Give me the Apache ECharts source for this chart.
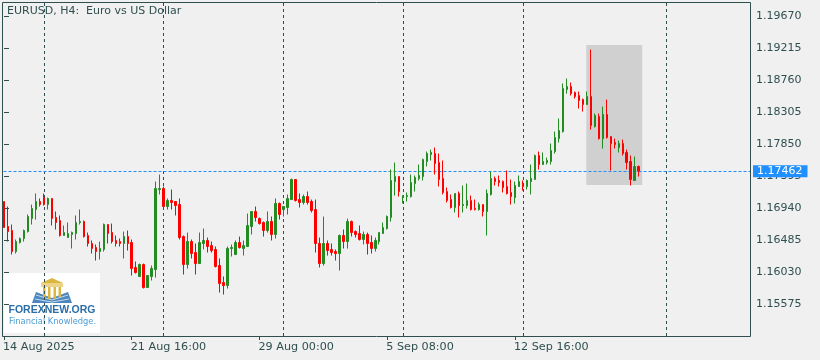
<!DOCTYPE html>
<html>
<head>
<meta charset="utf-8">
<style>
  html, body { margin: 0; padding: 0; background: #f0f0f0; }
  #chart { width: 820px; height: 360px; }
</style>
<script src="https://cdn.jsdelivr.net/npm/echarts@6/dist/echarts.min.js"></script>
</head>
<body>
<div id="chart"></div>
<script>
const opens = [
  1.17030,1.16675,1.16618,1.16319,1.16447,1.16504,1.16603,1.16788,1.16916,1.17030,
  1.17087,1.16987,1.17073,1.16803,1.16760,1.16547,1.16518,1.16561,1.16575,1.16731,
  1.16746,1.16547,1.16433,1.16376,1.16319,1.16348,1.16703,1.16589,1.16476,1.16461,
  1.16433,1.16532,1.16447,1.16092,1.15964,1.16134,1.15807,1.15964,1.16063,1.17201,
  1.17215,1.16959,1.17044,1.17030,1.16987,1.16532,1.16134,1.16461,1.16305,1.16148,
  1.16433,1.16476,1.16404,1.16348,1.16120,1.15878,1.15836,1.16362,1.16276,1.16447,
  1.16362,1.16390,1.16675,1.16888,1.16788,1.16731,1.16618,1.16746,1.16561,1.17002,
  1.16916,1.16945,1.17058,1.17343,1.17058,1.17016,1.17101,1.17030,1.16916,1.16433,
  1.16148,1.16433,1.16348,1.16319,1.16291,1.16547,1.16461,1.16746,1.16603,1.16575,
  1.16490,1.16561,1.16447,1.16362,1.16461,1.16575,1.16646,1.16803,1.17314,1.17385,
  1.17087,1.17101,1.17101,1.17286,1.17357,1.17385,1.17599,1.17698,1.17712,1.17584,
  1.17357,1.17172,1.17058,1.16945,1.17144,1.16973,1.16973,1.17044,1.16931,1.16916,
  1.16987,1.16888,1.17130,1.17357,1.17329,1.17314,1.17243,1.17158,1.17087,1.17243,
  1.17272,1.17243,1.17314,1.17343,1.17684,1.17556,1.17584,1.17599,1.17741,1.17925,
  1.18025,1.18622,1.18665,1.18580,1.18537,1.18480,1.18409,1.18523,1.18096,1.18238,
  1.17925,1.18267,1.17954,1.17869,1.17798,1.17854,1.17727,1.17599,1.17329,1.17528
];
const closes = [
  1.16660,1.16603,1.16319,1.16461,1.16504,1.16618,1.16817,1.16931,1.17030,1.16987,
  1.16987,1.17073,1.16788,1.16731,1.16547,1.16589,1.16575,1.16589,1.16731,1.16746,
  1.16532,1.16433,1.16362,1.16319,1.16362,1.16703,1.16575,1.16461,1.16433,1.16433,
  1.16532,1.16433,1.16077,1.16020,1.16134,1.15807,1.15978,1.16077,1.17215,1.17215,
  1.16959,1.17044,1.17016,1.16973,1.16518,1.16134,1.16461,1.16291,1.16148,1.16447,
  1.16476,1.16390,1.16333,1.16106,1.15864,1.15836,1.16362,1.16376,1.16447,1.16376,
  1.16404,1.16689,1.16888,1.16803,1.16717,1.16618,1.16746,1.16561,1.17002,1.16845,
  1.16959,1.17073,1.17343,1.17044,1.17016,1.17101,1.17016,1.16902,1.16433,1.16148,
  1.16433,1.16333,1.16305,1.16291,1.16547,1.16461,1.16746,1.16589,1.16561,1.16490,
  1.16561,1.16433,1.16362,1.16476,1.16589,1.16660,1.16817,1.17329,1.17385,1.17172,
  1.17115,1.17115,1.17300,1.17371,1.17400,1.17627,1.17712,1.17727,1.17570,1.17343,
  1.17158,1.17044,1.16945,1.17144,1.16973,1.16987,1.17044,1.16916,1.16916,1.16987,
  1.16888,1.17144,1.17357,1.17314,1.17300,1.17229,1.17144,1.17101,1.17258,1.17314,
  1.17243,1.17329,1.17357,1.17684,1.17556,1.17599,1.17613,1.17755,1.17940,1.18039,
  1.18636,1.18665,1.18565,1.18523,1.18466,1.18409,1.18523,1.18110,1.18253,1.17925,
  1.18267,1.17940,1.17854,1.17840,1.17854,1.17712,1.17584,1.17343,1.17528,1.17462
];
const lows = [
  1.16660,1.16461,1.16276,1.16291,1.16433,1.16461,1.16589,1.16703,1.16774,1.16959,
  1.16973,1.16916,1.16689,1.16632,1.16532,1.16547,1.16518,1.16362,1.16490,1.16703,
  1.16518,1.16390,1.16291,1.16191,1.16205,1.16319,1.16433,1.16433,1.16390,1.16390,
  1.16220,1.16333,1.15978,1.16006,1.15964,1.15793,1.15807,1.15907,1.15949,1.17130,
  1.16916,1.16916,1.16916,1.16831,1.16490,1.15992,1.16077,1.16220,1.15992,1.16148,
  1.16348,1.16305,1.16305,1.16092,1.15736,1.15708,1.15793,1.16248,1.16276,1.16362,
  1.16262,1.16390,1.16561,1.16746,1.16703,1.16532,1.16589,1.16476,1.16504,1.16774,
  1.16817,1.16845,1.17058,1.17030,1.16945,1.16987,1.16987,1.16874,1.16305,1.16092,
  1.16120,1.16262,1.16262,1.16191,1.16049,1.16362,1.16362,1.16532,1.16518,1.16476,
  1.16419,1.16276,1.16291,1.16319,1.16419,1.16575,1.16632,1.16746,1.17115,1.17101,
  1.17002,1.17030,1.17087,1.17172,1.17329,1.17329,1.17528,1.17613,1.17414,1.17243,
  1.17130,1.17016,1.16931,1.16874,1.16803,1.16874,1.16931,1.16902,1.16902,1.16902,
  1.16817,1.16547,1.17115,1.17258,1.17243,1.17158,1.17130,1.16987,1.17002,1.17243,
  1.17186,1.17201,1.17130,1.17343,1.17485,1.17556,1.17556,1.17556,1.17712,1.17869,
  1.18011,1.18565,1.18537,1.18494,1.18352,1.18309,1.18409,1.18053,1.18082,1.17911,
  1.17783,1.17925,1.17471,1.17783,1.17727,1.17684,1.17485,1.17258,1.17329,1.17385
];
const highs = [
  1.17030,1.16959,1.16703,1.16490,1.16518,1.16632,1.16845,1.16987,1.17144,1.17073,
  1.17144,1.17087,1.17073,1.16888,1.16831,1.16689,1.16731,1.16603,1.16831,1.16916,
  1.16760,1.16589,1.16476,1.16419,1.16461,1.16717,1.16703,1.16717,1.16547,1.16504,
  1.16603,1.16618,1.16490,1.16177,1.16148,1.16148,1.15978,1.16120,1.17314,1.17414,
  1.17243,1.17073,1.17201,1.17030,1.17073,1.16547,1.16589,1.16490,1.16433,1.16589,
  1.16646,1.16518,1.16461,1.16390,1.16220,1.15964,1.16390,1.16419,1.16476,1.16532,
  1.16476,1.16859,1.16888,1.16959,1.16803,1.16746,1.16888,1.16817,1.17073,1.17016,
  1.16959,1.17130,1.17357,1.17343,1.17144,1.17130,1.17172,1.17058,1.17058,1.16518,
  1.16817,1.16476,1.16433,1.16348,1.16561,1.16632,1.16788,1.16760,1.16618,1.16689,
  1.16603,1.16589,1.16547,1.16518,1.16589,1.16731,1.16831,1.17485,1.17584,1.17385,
  1.17115,1.17158,1.17414,1.17400,1.17556,1.17641,1.17741,1.17769,1.17798,1.17712,
  1.17613,1.17229,1.17130,1.17144,1.17172,1.17258,1.17286,1.17115,1.17058,1.17016,
  1.16987,1.17201,1.17456,1.17385,1.17400,1.17329,1.17471,1.17343,1.17314,1.17400,
  1.17329,1.17343,1.17556,1.17698,1.17741,1.17727,1.17655,1.17854,1.18025,1.18210,
  1.18708,1.18778,1.18722,1.18594,1.18594,1.18494,1.18594,1.19191,1.18281,1.18281,
  1.18380,1.18480,1.17954,1.17925,1.17897,1.17911,1.17769,1.17684,1.17670,1.17542
];
const yTicks = [1.1967, 1.19215, 1.1876, 1.18305, 1.1785, 1.17395, 1.1694, 1.16485, 1.1603, 1.15575];
const dateSlots = [0, 32, 64, 96, 128];
const dateLabels = ["14 Aug 2025", "21 Aug 16:00", "29 Aug 00:00", "5 Sep 08:00", "12 Sep 16:00"];
const gridCandles = [10, 40, 70, 100, 130, 166];
const lastPrice = 1.17462;
const highlightBox = { from: 145.875, to: 159.875, top: 1.19256, bottom: 1.17265 };

const INK = "#2F4F4F";
const BLUE = "#1E90FF";

const candles = opens.map((o, i) => [i, o, closes[i], lows[i], highs[i]]);

const chart = echarts.init(document.getElementById("chart"), null, { renderer: "canvas" });
chart.setOption({
  animation: false,
  backgroundColor: "#F0F0F0",
  textStyle: { fontFamily: "DejaVu Sans" },
  title: {
    text: "EURUSD, H4:  Euro vs US Dollar",
    left: 7,
    top: 6,
    padding: 0,
    textStyle: { color: INK, fontSize: 11, fontWeight: "normal", fontFamily: "DejaVu Sans" },
  },
  grid: {
    left: 2,
    top: 2,
    width: 748,
    height: 334,
  },
  // value axis with an eighth of a slot of offset: puts candle centres on x.5 so the wicks stay crisp
  xAxis: {
    type: "value",
    min: -0.125,
    max: 186.875,
    axisLine: { show: false },
    splitLine: { show: false },
    axisTick: { show: true, length: 4, customValues: dateSlots, lineStyle: { color: INK } },
    axisLabel: {
      customValues: dateSlots,
      align: "left",
      margin: 6,
      color: INK,
      fontSize: 11.2,
      padding: [0, 0, 0, -1],
      formatter: (v) => dateLabels[dateSlots.indexOf(v)],
    },
  },
  yAxis: {
    type: "value",
    position: "right",
    scale: true,
    min: 1.15118,
    max: 1.19867,
    axisLine: { show: false },
    splitLine: { show: false },
    axisTick: { show: true, length: 5, customValues: yTicks, lineStyle: { color: INK } },
    axisLabel: {
      customValues: yTicks,
      margin: 6,
      color: INK,
      fontSize: 11,
      padding: [2, 0, 0, 0],
      formatter: (v) => v.toFixed(5),
    },
  },
  series: [
    {
      type: "line",
      data: [],
      silent: true,
      markArea: {
        silent: true,
        z: 0,
        itemStyle: { color: "#D0D0D0" },
        data: [[
          { xAxis: highlightBox.from, yAxis: highlightBox.top },
          { xAxis: highlightBox.to, yAxis: highlightBox.bottom },
        ]],
      },
      markLine: {
        silent: true,
        z: 1,
        symbol: "none",
        precision: 5,
        animation: false,
        data: gridCandles
          .map((i) => ({
            xAxis: i,
            label: { show: false },
            lineStyle: { color: INK, type: [3, 3], width: 1 },
          }))
          .concat([{
            yAxis: lastPrice,
            lineStyle: { color: BLUE, type: [3, 2], width: 1 },
            label: {
              show: true,
              position: "end",
              distance: 3,
              formatter: lastPrice.toFixed(5),
              color: "#FFFFFF",
              backgroundColor: BLUE,
              fontSize: 11,
              fontFamily: "DejaVu Sans",
              padding: [1, 5, 0, 4],
            },
          }]),
      },
    },
    {
      type: "candlestick",
      z: 2,
      barWidth: 2,
      data: candles,
      itemStyle: {
        color: "#228B22",
        color0: "#FF0000",
        borderColor: "#228B22",
        borderColor0: "#FF0000",
        borderWidth: 1,
      },
    },
  ],
  graphic: [
    // chart frame, the grid's own border would blur on whole pixels
    {
      type: "rect",
      z: 3,
      silent: true,
      shape: { x: 2.5, y: 2.5, width: 748, height: 334 },
      style: { stroke: INK, fill: "none", lineWidth: 1 },
    },
    {
      type: "group",
      z: 50,
      children: [
        { type: "rect", shape: { x: 4, y: 273, width: 96, height: 60 }, style: { fill: "#FFFFFF" } },
        // open book
        { type: "polygon", shape: { points: [[36, 292], [52, 298], [68, 292], [72, 303], [32, 303]] }, style: { fill: "#4C86BE" } },
        { type: "polyline", shape: { points: [[36, 295], [52, 300], [68, 295]] }, style: { stroke: "#C6DAEC", fill: "none", lineWidth: 1 } },
        { type: "polyline", shape: { points: [[35, 299], [52, 302], [69, 299]] }, style: { stroke: "#C6DAEC", fill: "none", lineWidth: 1 } },
        // temple roof and columns
        { type: "polygon", shape: { points: [[41, 283], [52, 278], [63, 283]] }, style: { fill: "#DDB640" } },
        { type: "rect", shape: { x: 41, y: 283, width: 22, height: 4 }, style: { fill: "#EBD48A" } },
        { type: "rect", shape: { x: 43, y: 287, width: 2.5, height: 10 }, style: { fill: "#DDB640" } },
        { type: "rect", shape: { x: 48, y: 287, width: 2.5, height: 12 }, style: { fill: "#DDB640" } },
        { type: "rect", shape: { x: 53.5, y: 287, width: 2.5, height: 12 }, style: { fill: "#DDB640" } },
        { type: "rect", shape: { x: 58.5, y: 287, width: 2.5, height: 10 }, style: { fill: "#DDB640" } },
        {
          type: "text",
          x: 52, y: 310,
          style: { text: "FOREXNEW.ORG", fill: "#2C6EA6", font: "bold 10.5px 'Liberation Sans'", textAlign: "center", textVerticalAlign: "middle" },
        },
        {
          type: "text",
          x: 52.5, y: 322,
          style: { text: "Financial Knowledge.", fill: "#4A9DD6", font: "8.3px 'DejaVu Sans'", textAlign: "center", textVerticalAlign: "middle" },
        },
      ],
    },
  ],
});
</script>
</body>
</html>
